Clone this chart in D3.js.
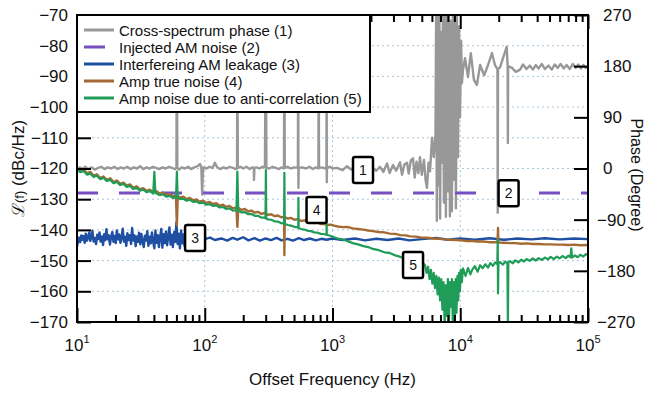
<!DOCTYPE html>
<html>
<head>
<meta charset="utf-8">
<script src="https://cdn.jsdelivr.net/npm/d3@7/dist/d3.min.js"></script>
<style>
  html, body { margin: 0; padding: 0; background: #fff; }
  svg { display: block; font-family: "Liberation Sans", Arial, Helvetica, sans-serif; }
</style>
</head>
<body>
<div id="chart"></div>
<script>
// ---- data ----
// x: offset frequency (Hz), y: dBc/Hz (left axis) or degrees (right axis, phase)

const yTicks = [-70, -80, -90, -100, -110, -120, -130, -140, -150, -160, -170];
const phaseTicks = [270, 180, 90, 0, -90, -180, -270];
const decades = [10, 100, 1000, 10000, 100000];

const legendLabels = [
  'Cross-spectrum phase (1)',
  'Injected AM noise (2)',
  'Interfereing AM leakage (3)',
  'Amp true noise (4)',
  'Amp noise due to anti-correlation (5)'
];

// (1) cross-spectrum phase, degrees
const crossPhase = [
  [10, 0], [10.5, 2], [11, -1], [11.6, 3], [12.2, -1], [13, 2], [13.8, -2], [14.6, 1], [15.5, 3], [16.4, -1],
  [17.4, 2], [18.5, 0], [19.6, 3], [20.8, -1], [22, 2], [23.3, 0], [24.7, 3], [26.2, -1], [27.8, 2], [29.5, 0],
  [31.2, 4], [33, -1], [35, 2], [37, 0], [39.2, 3], [41.5, 1], [44, -1], [46.6, 2], [49.4, 0], [52.3, 3],
  [55.4, 1], [58.7, -1], [60, 1], [60.5, 260], [61, 1], [63, -2], [66, 2], [70, 0], [74, 3], [78, -1],
  [83, 2], [88, 4], [92, 8], [94, 1], [95.5, -46], [97, 2], [103, 0], [109, 3], [115, 1], [120, 10],
  [125, 2], [132, -1], [140, 2], [148, 0], [157, 3], [166, 1], [176, -1], [179, 1], [180, 260], [181.5, 1],
  [190, 3], [200, 0], [212, 3], [225, -1], [236, 2], [242, 1], [243, -20], [245, 1], [255, 2], [268, 0],
  [282, 3], [296, 2], [300, 260], [304, 1], [320, 0], [340, 3], [360, 1], [380, -1], [400, 2], [417, 0],
  [420, 260], [423, 1], [445, 3], [470, 0], [500, 2], [536, 1], [539, 260], [541, -34], [544, 1], [580, 2],
  [620, 0], [660, 3], [700, -1], [740, 2], [776, 0], [780, 260], [784, 1], [830, 2], [870, 0], [897, 2],
  [900, 260], [902, -24], [905, 1], [950, 3], [1000, 0], [1084, 1], [1200, -3], [1300, 4], [1400, -2], [1500, 5],
  [1650, 0], [1800, -3], [1950, 4], [2075, 1], [2200, -4], [2355, 3], [2500, -6], [2673, 9], [2800, -8], [2979, 6],
  [3150, -4], [3377, 11], [3500, -11], [3650, 7], [3830, 10], [3950, -9], [4100, 14], [4267, 18], [4400, -16], [4550, 12],
  [4700, -8], [4840, 20], [5000, -11], [5200, 15], [5350, -20], [5490, -34], [5650, 10], [5800, -5], [6010, 54], [6200, 20],
  [6400, 60], [6480, 285], [6560, -92], [6660, 285], [6760, -30], [6860, 285], [6960, -88], [7080, 240], [7200, 10], [7320, 285],
  [7450, -60], [7580, 285], [7720, -85], [7860, 285], [8000, -40], [8150, 285], [8300, -84], [8450, 260], [8600, -75], [8760, 285],
  [8920, -20], [9080, 285], [9250, -70], [9420, 270], [9600, 20], [9780, 250], [9960, 90], [10150, 225], [10300, 150], [10500, 173],
  [10900, 194], [11500, 161], [12100, 203], [12800, 156], [13500, 147], [14300, 182], [15400, 164], [16500, 182], [17700, 203], [18700, 182],
  [19550, 175], [19650, -78], [19750, 175], [20500, 178], [21600, 194], [23100, 214], [23500, 180], [23600, 45], [23700, 180], [25400, 177],
  [27200, 170], [29400, 174], [31000, 183], [33000, 175], [35000, 181], [37000, 174], [39000, 182], [41000, 176], [43500, 184], [46000, 175],
  [49000, 181], [52000, 174], [55000, 183], [58000, 177], [61000, 184], [64500, 176], [68000, 182], [72000, 175], [76000, 184], [80000, 177],
  [84000, 183], [88000, 176], [92000, 182], [96000, 177], [100000, 180]
];

// (2) injected AM noise, dBc/Hz
const injectedAM = [[10, -128], [100000, -128]];

// (3) interfering AM leakage, dBc/Hz
const amLeakage = [
  [10, -145.5], [10.2, -143.5], [10.4, -142.5], [10.6, -144], [10.8, -141.8], [11, -143.2], [11.2, -142], [11.5, -144.2], [11.7, -141.2], [12, -143.5],
  [12.2, -142.2], [12.5, -140.8], [12.7, -143.6], [13, -142.4], [13.2, -140.3], [13.5, -143.8], [13.8, -142.6], [14.1, -144.6], [14.4, -141.6], [14.7, -143],
  [15, -140.8], [15.3, -143.8], [15.6, -142.1], [16, -144.9], [16.3, -141.4], [16.6, -143.4], [17, -139.8], [17.3, -143.1], [17.7, -141.7], [18.1, -144.8],
  [18.5, -142.2], [18.9, -140.7], [19.3, -143.9], [19.7, -142], [20.1, -144.3], [20.5, -140.2], [21, -143.1], [21.4, -141.5], [21.9, -144.2], [22.3, -142.6],
  [22.8, -139.6], [23.3, -143.8], [23.8, -142.2], [24.3, -145.2], [24.8, -141.1], [25.4, -143.3], [25.9, -141.7], [26.5, -144.6], [27, -139.4], [27.6, -143.5],
  [28.2, -141.8], [28.8, -145.3], [29.4, -142.1], [30, -143.9], [30.6, -140.9], [31.3, -144.7], [31.9, -141.3], [32.6, -143.6], [33.3, -145.6], [34, -141.9],
  [34.7, -143.5], [35.5, -140.4], [36.2, -145.2], [37, -142.2], [37.8, -144.4], [38.6, -140.8], [39.4, -143.7], [40.3, -146], [41.1, -140.2], [42, -144.2],
  [42.9, -141.7], [43.8, -145.6], [44.7, -142.3], [45.7, -139.7], [46.6, -145.8], [47.6, -141.4], [48.6, -144.3], [49.7, -140.5], [50.7, -145], [51.8, -142.2],
  [52.9, -139.2], [54, -144.8], [55.2, -141.6], [56.3, -145.6], [57.6, -140.7], [58.8, -143.9], [60, -137.5], [61.3, -144.6], [62.6, -141.2], [63.9, -146],
  [65.3, -140.2], [66.7, -144.4], [68.1, -141.5], [69.5, -145.2], [71, -140.6], [72.5, -143.8], [74, -138.4], [75.6, -144.6], [77.2, -141.8], [78.8, -144],
  [80.5, -142], [84, -143], [90, -142.4], [100, -143], [110, -142.5], [120, -143.3], [135, -142.8], [150, -143.5], [165, -142.6], [180, -143.2],
  [200, -142.4], [220, -143.4], [245, -142.7], [270, -143.5], [300, -142.8], [330, -143.3], [365, -142.6], [400, -143.4], [445, -142.9], [490, -143.5],
  [545, -142.7], [600, -143.3], [665, -142.8], [740, -143.4], [820, -142.9], [900, -143.2], [1000, -142.8], [1200, -143.3], [1500, -142.8], [1800, -143.4],
  [2200, -142.9], [2700, -143.3], [3300, -142.8], [4000, -143.4], [5000, -143], [6500, -142.6], [8000, -143.2], [10000, -142.8], [13000, -143.2], [17000, -142.7],
  [22000, -143.2], [28000, -142.8], [36000, -143.1], [46000, -142.7], [60000, -143.1], [78000, -142.8], [100000, -143]
];

// (4) amp true noise, dBc/Hz
const ampTrue = [
  [10, -119.8], [10.6, -120.9], [11.3, -120.4], [12, -121.6], [12.7, -121.1], [13.5, -122.4], [14.3, -121.9], [15.2, -123.1], [16.1, -122.6], [17.1, -123.7],
  [18.2, -123.2], [19.3, -124.4], [20.5, -123.9], [21.8, -125], [23.1, -124.6], [24.5, -125.6], [26, -125.2], [27.6, -126.3], [29.3, -125.8], [31.1, -126.8],
  [33, -126.4], [35, -127.3], [37.2, -126.9], [39.5, -127.8], [41.9, -127.4], [44.5, -128.2], [47.2, -127.9], [50.1, -128.7], [53.2, -128.3], [56.5, -129.1],
  [59.5, -128.8], [60.5, -138.4], [61.5, -128.9], [64, -129.5], [68, -129.2], [72, -130], [76.5, -129.6], [81, -130.4], [86, -130.1], [91, -130.8],
  [97, -130.5], [103, -131.2], [109, -130.9], [116, -131.6], [123, -131.3], [131, -132.1], [139, -131.8], [147, -132.5], [156, -132.2], [166, -133],
  [177, -132.7], [180, -139], [183, -132.8], [194, -133.5], [206, -133.2], [219, -134], [232, -133.7], [246, -134.4], [261, -134.1], [277, -134.8],
  [294, -134.5], [312, -135.1], [331, -134.9], [352, -135.5], [374, -135.3], [396, -135.9], [418, -135.7], [420, -148.2], [423, -135.8], [446, -136.3],
  [474, -136.1], [503, -136.7], [534, -136.5], [567, -137.1], [602, -136.9], [639, -137.4], [679, -137.3], [720, -137.8], [765, -137.6], [812, -138.1],
  [862, -138], [915, -138.4], [971, -138.3], [1030, -138.6], [1100, -138.9], [1200, -139.1], [1300, -139], [1440, -139.5], [1580, -139.7], [1750, -139.9],
  [1900, -140.2], [2070, -140.4], [2300, -140.7], [2550, -140.8], [2800, -141.2], [3100, -141.3], [3400, -141.7], [3750, -141.8], [4050, -142.1], [4500, -142.2],
  [5000, -142.5], [5500, -142.5], [6100, -142.8], [6800, -142.9], [7500, -143.1], [8300, -143.2], [9200, -143.3], [10200, -143.4], [11200, -143.6], [12400, -143.6],
  [13700, -143.8], [15200, -143.8], [16800, -144], [18500, -144], [19600, -144.1], [19750, -139.4], [19900, -144.1], [22000, -144.2], [24500, -144.3], [27000, -144.3],
  [30000, -144.5], [33000, -144.4], [37000, -144.6], [41000, -144.6], [46000, -144.7], [51000, -144.7], [57000, -144.8], [63000, -144.8], [70000, -144.9], [78000, -144.8],
  [87000, -145], [100000, -144.9]
];

// (5) amp noise due to anti-correlation, dBc/Hz
const ampAnti = [
  [10, -120.3], [10.6, -121.2], [11.3, -120.9], [12, -122], [12.7, -121.6], [13.5, -122.8], [14.3, -122.3], [15.2, -123.5], [16.1, -123], [17.1, -124.1],
  [18.2, -123.7], [19.3, -124.8], [20.5, -124.4], [21.8, -125.4], [23.1, -125], [24.5, -126], [26, -125.7], [27.6, -126.7], [29.3, -126.3], [31.1, -127.2],
  [33, -126.9], [35, -127.7], [37.2, -127.4], [39.5, -128.2], [40.3, -121.1], [41.1, -127.9], [44.5, -128.7], [47.2, -128.4], [50.1, -129.2], [53.2, -128.9],
  [56.5, -129.6], [59.6, -129.4], [60.5, -121], [61.4, -129.5], [64, -130], [68, -129.8], [72, -130.5], [76.5, -130.2], [81, -130.9], [86, -130.7],
  [91, -131.3], [97, -131.1], [103, -131.8], [109, -131.6], [116, -132.2], [123, -132], [131, -132.7], [139, -132.5], [147, -133.2], [156, -133],
  [166, -133.7], [177, -133.6], [180, -121], [183, -133.8], [194, -134.3], [206, -134.2], [219, -134.9], [232, -134.8], [246, -135.4], [261, -135.4],
  [277, -136], [294, -136], [299, -136.2], [301, -120.5], [303, -136.3], [312, -136.6], [331, -136.7], [352, -137.2], [374, -137.3], [396, -137.8],
  [418, -137.9], [420, -121.4], [423, -138], [446, -138.4], [474, -138.6], [503, -139], [534, -139.2], [539, -139.3], [541, -129.6], [543, -139.3],
  [567, -139.7], [602, -139.9], [639, -140.3], [679, -140.4], [720, -140.8], [765, -140.9], [812, -141.3], [862, -141.4], [898, -141.6], [900, -137],
  [902, -141.6], [971, -142], [1030, -142.4], [1100, -142.8], [1200, -143.1], [1300, -143.6], [1440, -144.3], [1580, -144.7], [1750, -145.3], [1900, -145.6],
  [2070, -146.2], [2300, -146.6], [2550, -147.3], [2800, -147.5], [3100, -148.3], [3400, -148.8], [3750, -149.6], [4050, -150], [4500, -150.6], [5100, -150.8],
  [5300, -151.5], [5450, -154], [5600, -152], [5750, -156], [5900, -153], [6050, -157.5], [6200, -154], [6340, -159], [6500, -155], [6650, -161],
  [6800, -155.5], [6950, -163], [7100, -156], [7250, -166], [7400, -157], [7550, -171], [7700, -158], [7850, -168], [8000, -156], [8150, -171],
  [8300, -157], [8450, -165], [8600, -156], [8750, -171], [8900, -157], [9050, -171], [9200, -156], [9350, -167], [9500, -155], [9650, -163],
  [9800, -154], [9950, -160], [10100, -153], [10300, -157], [10500, -152.5], [11000, -155], [11500, -152.4], [12000, -154.5], [12400, -153], [13000, -151.8],
  [13700, -153.6], [14300, -151.5], [15000, -152.5], [15700, -151.2], [16500, -152.3], [17200, -150.8], [18000, -151.7], [18800, -150.6], [19500, -151.2], [19650, -143.3],
  [19750, -160.7], [19900, -151], [20500, -150.5], [21600, -151.3], [22500, -150.3], [23400, -150.9], [23600, -171], [23800, -150.5], [24500, -150.2], [25800, -150.9],
  [27000, -149.9], [28500, -150.6], [30000, -149.7], [31500, -150.3], [33000, -149.5], [35000, -150.1], [37000, -149.3], [39000, -150], [41000, -149.2], [43500, -149.8],
  [46000, -149], [48500, -149.6], [51000, -148.8], [54000, -149.5], [57000, -148.7], [60000, -149.3], [63000, -148.5], [67000, -149.2], [70000, -148.4], [73000, -148.9],
  [74000, -146], [75000, -149], [79000, -148.3], [83000, -148.9], [87000, -148.1], [92000, -148.7], [96000, -147.9], [100000, -148.3]
];

// numbered callout boxes: [label, frequency, dBc/Hz]
const callouts = [
  ['1', 1733, -120.5],
  ['2', 23900, -128.1],
  ['3', 84, -142.6],
  ['4', 750, -133.5],
  ['5', 4270, -151.4]
];

// ---- drawing ----
const width = 647, height = 393;
const plot = { left: 77, right: 588, top: 15, bottom: 322 };

const svg = d3.select('#chart')
  .append('svg')
  .attr('width', width)
  .attr('height', height)
  .attr('xmlns', 'http://www.w3.org/2000/svg');

svg.append('rect').attr('width', width).attr('height', height).attr('fill', '#fff');

const x = d3.scaleLog().domain([10, 1e5]).range([plot.left, plot.right]);
const y = d3.scaleLinear().domain([-170, -70]).range([plot.bottom, plot.top]);
const yPhase = d3.scaleLinear().domain([-270, 270]).range([plot.bottom, plot.top]);

// clip for the data
svg.append('defs').append('clipPath').attr('id', 'plotclip')
  .append('rect')
  .attr('x', plot.left).attr('y', plot.top)
  .attr('width', plot.right - plot.left).attr('height', plot.bottom - plot.top);

// dotted grid
const gridColor = '#a8c6d8';
const grid = svg.append('g');
grid.selectAll('.hgrid')
  .data(yTicks.filter(v => v > -170 && v < -70))
  .enter().append('line')
  .attr('x1', plot.left).attr('x2', plot.right)
  .attr('y1', d => y(d)).attr('y2', d => y(d))
  .attr('stroke', gridColor).attr('stroke-width', 1).attr('stroke-dasharray', '2,3');
grid.selectAll('.vgrid')
  .data(decades.slice(1, -1))
  .enter().append('line')
  .attr('x1', d => x(d)).attr('x2', d => x(d))
  .attr('y1', plot.top).attr('y2', plot.bottom)
  .attr('stroke', gridColor).attr('stroke-width', 1).attr('stroke-dasharray', '2,3');

// series
const line = d3.line().x(d => x(d[0])).y(d => y(d[1]));
const phaseLine = d3.line().x(d => x(d[0])).y(d => yPhase(d[1]));

const colors = {
  grey: '#989898',
  purple: '#7650c0',
  blue: '#1f4fa2',
  brown: '#a56a33',
  green: '#1f9d58'
};

const data = svg.append('g').attr('clip-path', 'url(#plotclip)');

data.append('path').datum(crossPhase)
  .attr('d', phaseLine).attr('fill', 'none')
  .attr('stroke', colors.grey).attr('stroke-width', 2.4).attr('stroke-linejoin', 'round');

data.append('path').datum(injectedAM)
  .attr('d', line).attr('fill', 'none')
  .attr('stroke', colors.purple).attr('stroke-width', 3).attr('stroke-dasharray', '21,21');

data.append('path').datum(amLeakage)
  .attr('d', line).attr('fill', 'none')
  .attr('stroke', colors.blue).attr('stroke-width', 2.4).attr('stroke-linejoin', 'round');

data.append('path').datum(ampTrue)
  .attr('d', line).attr('fill', 'none')
  .attr('stroke', colors.brown).attr('stroke-width', 2.4).attr('stroke-linejoin', 'round');

data.append('path').datum(ampAnti)
  .attr('d', line).attr('fill', 'none')
  .attr('stroke', colors.green).attr('stroke-width', 2.2).attr('stroke-linejoin', 'round');

// axes (ticks point into the plot)
const minorTicks = [];
for (let i = 0; i < decades.length - 1; i++) {
  for (let m = 1; m < 10; m++) minorTicks.push(decades[i] * m);
}
minorTicks.push(1e5);
const isDecade = d => decades.indexOf(d) >= 0;

function styleAxis(g) {
  g.select('.domain').remove();
  g.selectAll('.tick line').attr('stroke', '#000').attr('stroke-width', 2);
  g.selectAll('.tick text')
    .attr('fill', '#111')
    .style('font-size', '17px')
    .style('font-family', '"Liberation Sans", Arial, Helvetica, sans-serif');
}

svg.append('g')
  .attr('transform', `translate(${plot.left},0)`)
  .call(d3.axisLeft(y).tickValues(yTicks).tickSizeInner(-14).tickSizeOuter(0).tickPadding(9))
  .call(styleAxis);

const rightAxis = svg.append('g')
  .attr('transform', `translate(${plot.right},0)`)
  .call(d3.axisRight(yPhase).tickValues(phaseTicks).tickSizeInner(-14).tickSizeOuter(0).tickPadding(15))
  .call(styleAxis);
rightAxis.selectAll('.tick text').attr('x', d => d < 0 ? 9 : 15);

const bottomAxis = svg.append('g')
  .attr('transform', `translate(0,${plot.bottom})`)
  .call(d3.axisBottom(x).tickValues(minorTicks).tickSizeInner(-7).tickSizeOuter(0).tickFormat(''))
  .call(styleAxis);
bottomAxis.selectAll('.tick line').attr('y2', d => isDecade(d) ? -14 : -7);

const topAxis = svg.append('g')
  .attr('transform', `translate(0,${plot.top})`)
  .call(d3.axisTop(x).tickValues(minorTicks).tickSizeInner(-7).tickSizeOuter(0).tickFormat(''))
  .call(styleAxis);
topAxis.selectAll('.tick line').attr('y2', d => isDecade(d) ? 14 : 7);

// decade labels 10^n
const xLabels = svg.append('g');
decades.forEach(d => {
  const t = xLabels.append('text')
    .attr('x', x(d)).attr('y', 351)
    .attr('text-anchor', 'middle')
    .attr('fill', '#111')
    .style('font-size', '17px');
  t.append('tspan').text('10');
  t.append('tspan').attr('dy', -8).style('font-size', '11px').text(Math.round(Math.log10(d)));
});

// frame
svg.append('rect')
  .attr('x', plot.left).attr('y', plot.top)
  .attr('width', plot.right - plot.left).attr('height', plot.bottom - plot.top)
  .attr('fill', 'none').attr('stroke', '#000').attr('stroke-width', 2);

// axis titles
svg.append('text')
  .attr('x', (plot.left + plot.right) / 2).attr('y', 385)
  .attr('text-anchor', 'middle').attr('fill', '#111')
  .style('font-size', '17px')
  .text('Offset Frequency (Hz)');

const leftTitle = svg.append('text')
  .attr('transform', `translate(24,${(plot.top + plot.bottom) / 2}) rotate(-90)`)
  .attr('text-anchor', 'middle').attr('fill', '#111')
  .style('font-size', '17px');
leftTitle.append('tspan').text('ℒ');
leftTitle.append('tspan').style('font-size', '13px').text('(f)');
leftTitle.append('tspan').text(' (dBc/Hz)');

svg.append('text')
  .attr('transform', `translate(631,175) rotate(90)`)
  .attr('text-anchor', 'middle').attr('fill', '#111')
  .style('font-size', '16px')
  .text('Phase (Degree)');

// legend
const legend = svg.append('g');
legend.append('rect')
  .attr('x', plot.left).attr('y', plot.top)
  .attr('width', 370 - plot.left).attr('height', 112 - plot.top)
  .attr('fill', '#fff').attr('stroke', '#000').attr('stroke-width', 2);

const legendColors = [colors.grey, colors.purple, colors.blue, colors.brown, colors.green];
legendLabels.forEach((label, i) => {
  const ly = 30 + i * 17;
  legend.append('line')
    .attr('x1', 84).attr('x2', i === 1 ? 105 : 114)
    .attr('y1', ly).attr('y2', ly)
    .attr('stroke', legendColors[i]).attr('stroke-width', 3);
  legend.append('text')
    .attr('x', 119).attr('y', ly + 5.5)
    .attr('fill', '#111')
    .style('font-size', '15px')
    .text(label);
});

// numbered boxes
const boxes = svg.append('g');
callouts.forEach(c => {
  const cx = x(c[1]), cy = y(c[2]);
  boxes.append('rect')
    .attr('x', cx - 10).attr('y', cy - 13)
    .attr('width', 20).attr('height', 26)
    .attr('rx', 2)
    .attr('fill', '#fff').attr('stroke', '#000').attr('stroke-width', 2.5);
  boxes.append('text')
    .attr('x', cx).attr('y', cy + 5)
    .attr('text-anchor', 'middle').attr('fill', '#111')
    .style('font-size', '14px')
    .text(c[0]);
});
</script>
</body>
</html>
